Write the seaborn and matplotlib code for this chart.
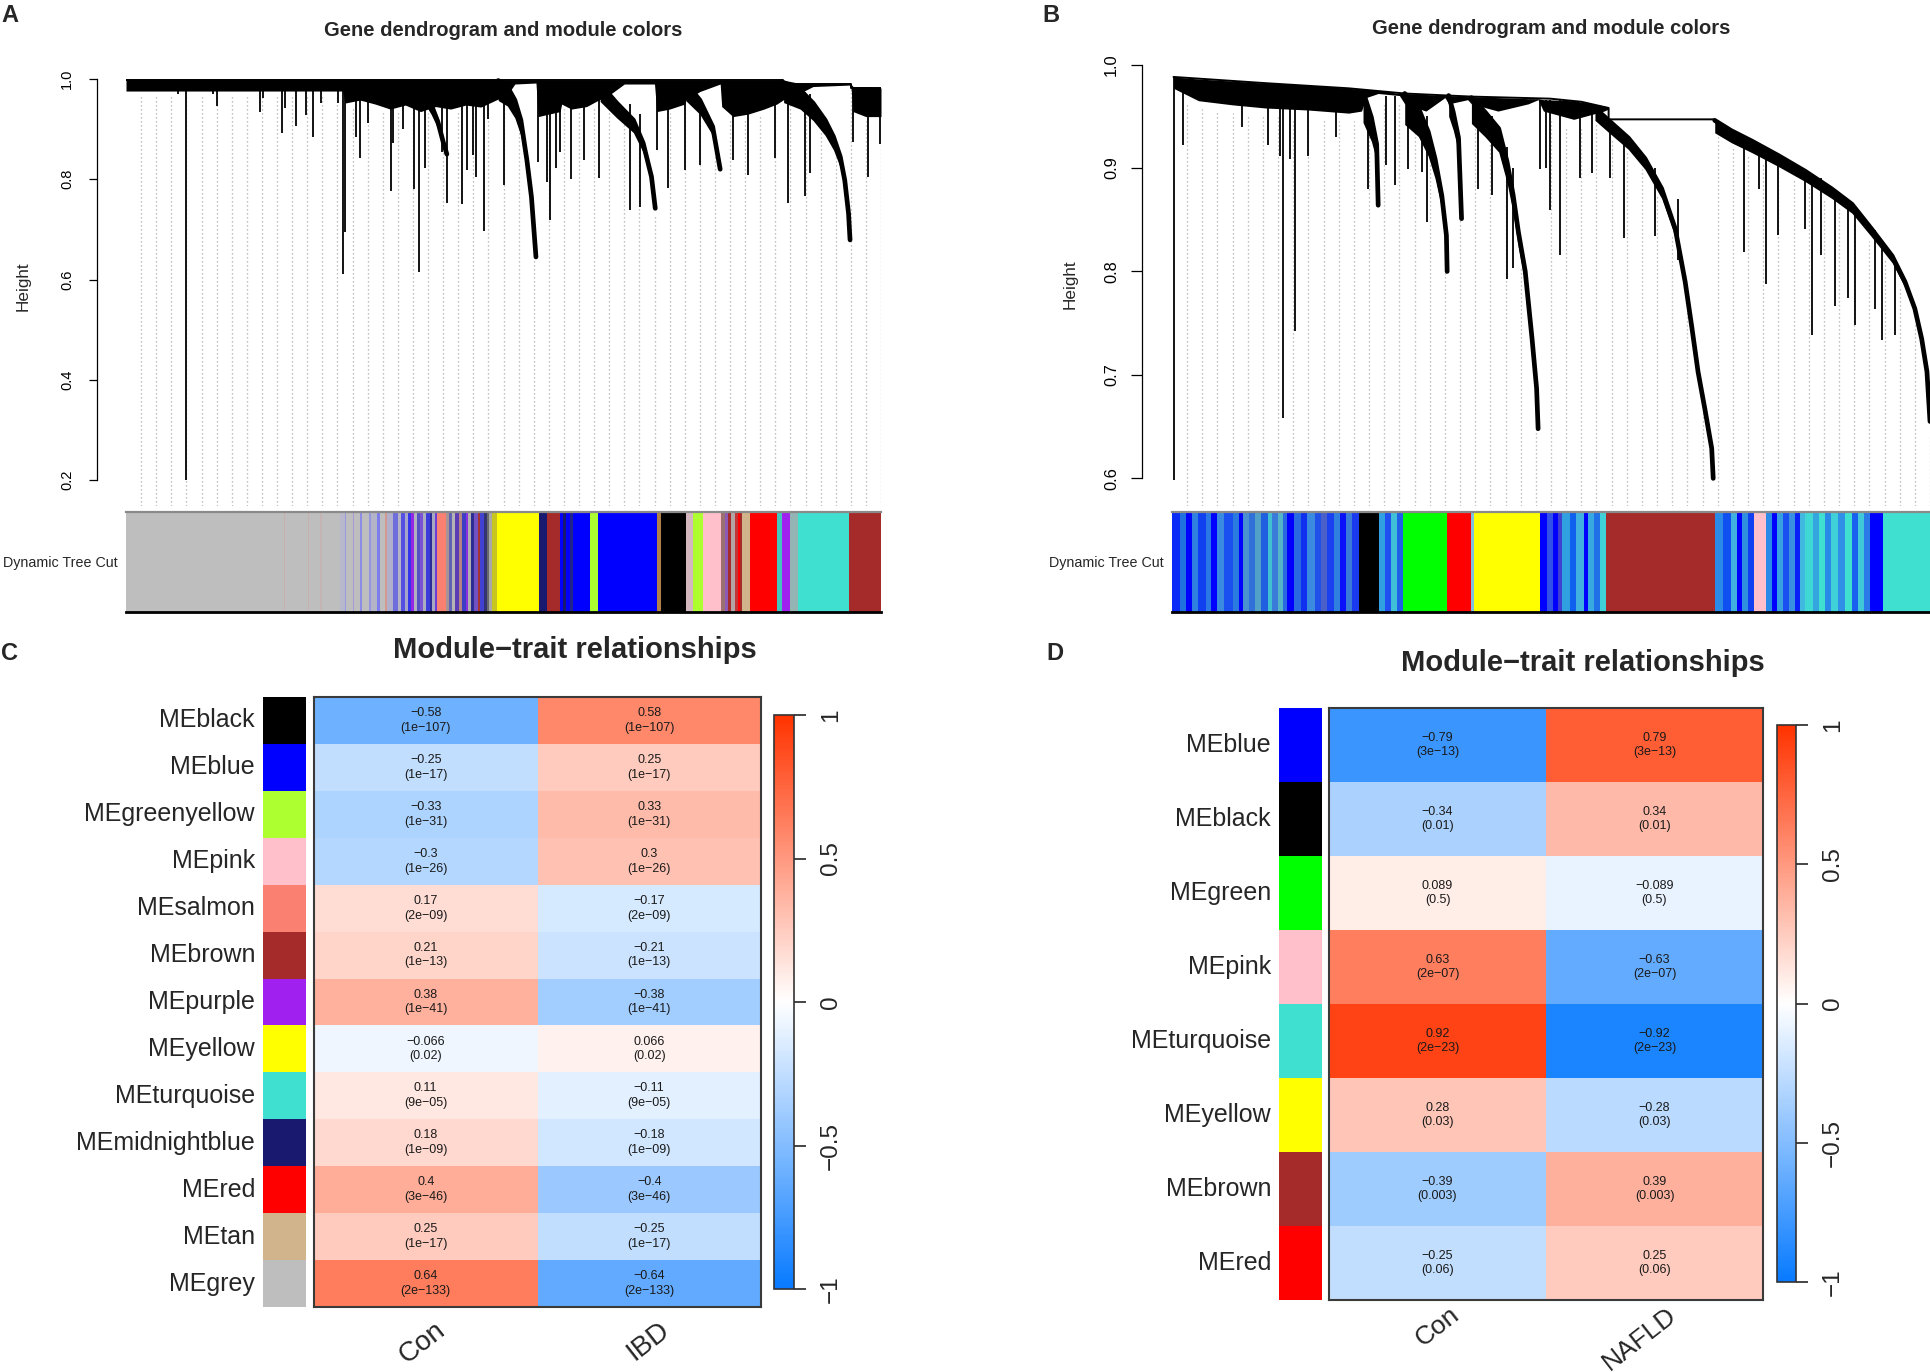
import numpy as np
import pandas as pd
import matplotlib
matplotlib.use("Agg")
import matplotlib.pyplot as plt
import matplotlib.transforms as mtrans
from matplotlib.colors import LinearSegmentedColormap, ListedColormap
import seaborn as sns

# ----------------------------------------------------------------- data
# R colour names used by WGCNA
RCOL = {"black": "#000000", "blue": "#0000FF", "greenyellow": "#ADFF2F", "pink": "#FFC0CB",
        "salmon": "#FA8072", "brown": "#A52A2A", "purple": "#A020F0", "yellow": "#FFFF00",
        "turquoise": "#40E0D0", "midnightblue": "#191970", "red": "#FF0000", "tan": "#D2B48C",
        "grey": "#BEBEBE", "green": "#00FF00"}

# Panel C: module-trait relationships (IBD)
C_modules = ["MEblack", "MEblue", "MEgreenyellow", "MEpink", "MEsalmon", "MEbrown", "MEpurple",
             "MEyellow", "MEturquoise", "MEmidnightblue", "MEred", "MEtan", "MEgrey"]
C_colors = ["black", "blue", "greenyellow", "pink", "salmon", "brown", "purple", "yellow",
            "turquoise", "midnightblue", "red", "tan", "grey"]
C_traits = ["Con", "IBD"]
C_cor_con = [-0.58, -0.25, -0.33, -0.3, 0.17, 0.21, 0.38, -0.066, 0.11, 0.18, 0.4, 0.25, 0.64]
C_cor_ibd = [0.58, 0.25, 0.33, 0.3, -0.17, -0.21, -0.38, 0.066, -0.11, -0.18, -0.4, -0.25, -0.64]
C_pval = ["1e-107", "1e-17", "1e-31", "1e-26", "2e-09", "1e-13", "1e-41", "0.02", "9e-05",
          "1e-09", "3e-46", "1e-17", "2e-133"]

# Panel D: module-trait relationships (NAFLD)
D_modules = ["MEblue", "MEblack", "MEgreen", "MEpink", "MEturquoise", "MEyellow", "MEbrown", "MEred"]
D_colors = ["blue", "black", "green", "pink", "turquoise", "yellow", "brown", "red"]
D_traits = ["Con", "NAFLD"]
D_cor_con = [-0.79, -0.34, 0.089, 0.63, 0.92, 0.28, -0.39, -0.25]
D_cor_nafld = [0.79, 0.34, -0.089, -0.63, -0.92, -0.28, 0.39, 0.25]
D_pval = ["3e-13", "0.01", "0.5", "2e-07", "2e-23", "0.03", "0.003", "0.06"]

# Panel A dendrogram (x = leaf-order fraction, h = height)
A_top_x = [0.0, 0.87, 0.87, 0.96, 0.96, 1.0]
A_top_h = [0.999, 0.999, 0.991, 0.991, 0.982, 0.982]
A_band_x = [0.000, 0.287, 0.290, 0.310, 0.330, 0.350, 0.370, 0.390, 0.410, 0.430, 0.450, 0.470, 0.490,
            0.505, 0.515, 0.543, 0.546, 0.560, 0.575, 0.577, 0.590, 0.610, 0.626, 0.640, 0.660, 0.700,
            0.703, 0.720, 0.740, 0.742, 0.760, 0.787, 0.789, 0.804, 0.824, 0.845, 0.862, 0.870, 0.890,
            0.910, 0.960, 0.963, 0.980, 1.000]
A_band_hi = [1.000, 1.000, 1.000, 1.000, 1.000, 1.000, 1.000, 1.000, 1.000, 1.000, 1.000, 1.000, 0.999,
             0.998, 0.998, 0.998, 0.998, 0.998, 0.998, 0.998, 0.998, 0.998, 0.998, 0.998, 0.998, 0.998,
             0.998, 0.998, 0.998, 0.998, 0.998, 0.998, 0.998, 0.998, 0.998, 0.998, 0.998, 0.998, 0.992,
             0.990, 0.990, 0.985, 0.985, 0.982]
A_band_lo = [0.976, 0.976, 0.952, 0.958, 0.950, 0.940, 0.948, 0.935, 0.945, 0.940, 0.948, 0.944, 0.958,
             0.968, 0.990, 0.992, 0.925, 0.930, 0.935, 0.950, 0.940, 0.945, 0.958, 0.968, 0.990, 0.990,
             0.935, 0.940, 0.950, 0.958, 0.975, 0.990, 0.945, 0.925, 0.930, 0.940, 0.950, 0.958, 0.970,
             0.985, 0.988, 0.935, 0.925, 0.925]
A_t1_x = [0.396, 0.404, 0.413, 0.420, 0.425]
A_t1_h = [0.975, 0.950, 0.915, 0.875, 0.850]
A_t2_x = [0.493, 0.505, 0.515, 0.523, 0.531, 0.537, 0.543]
A_t2_h = [0.997, 0.985, 0.958, 0.918, 0.838, 0.765, 0.645]
A_t3_x = [0.628, 0.650, 0.672, 0.685, 0.696, 0.701]
A_t3_h = [0.990, 0.952, 0.918, 0.872, 0.805, 0.742]
A_t4_x = [0.742, 0.760, 0.777, 0.787]
A_t4_h = [0.991, 0.958, 0.905, 0.820]
A_t5_x = [0.871, 0.893, 0.910, 0.926, 0.937, 0.946, 0.952, 0.957, 0.959]
A_t5_h = [0.993, 0.978, 0.952, 0.918, 0.885, 0.845, 0.798, 0.732, 0.679]
A_tail_depth = [0.025, 0.04, 0.035, 0.035, 0.04]
A_drop_x = [0.069, 0.0795, 0.115, 0.120, 0.177, 0.181, 0.206, 0.210, 0.225, 0.238, 0.248, 0.258, 0.281,
            0.287, 0.290, 0.305, 0.310, 0.321, 0.351, 0.354, 0.367, 0.382, 0.388, 0.396, 0.418, 0.425,
            0.445, 0.452, 0.460, 0.464, 0.474, 0.480, 0.500, 0.546, 0.557, 0.562, 0.570, 0.575, 0.589,
            0.606, 0.626, 0.667, 0.681, 0.703, 0.718, 0.740, 0.760, 0.804, 0.824, 0.860, 0.877, 0.899,
            0.906, 0.963, 0.983, 0.999]
A_drop_top = [0.976, 0.998, 0.976, 0.976, 0.976, 0.976, 0.976, 0.976, 0.976, 0.976, 0.976, 0.976, 0.976,
              0.998, 0.990, 0.970, 0.970, 0.970, 0.970, 0.970, 0.970, 0.970, 0.970, 0.970, 0.970, 0.970,
              0.970, 0.970, 0.970, 0.970, 0.970, 0.970, 0.990, 0.990, 0.990, 0.990, 0.990, 0.990, 0.990,
              0.990, 0.990, 0.950, 0.930, 0.990, 0.990, 0.990, 0.960, 0.990, 0.990, 0.990, 0.990, 0.975,
              0.970, 0.982, 0.982, 0.982]
A_drop_bot = [0.970, 0.200, 0.970, 0.946, 0.935, 0.962, 0.892, 0.942, 0.906, 0.928, 0.884, 0.952, 0.952,
              0.611, 0.695, 0.885, 0.842, 0.913, 0.777, 0.872, 0.900, 0.780, 0.615, 0.822, 0.855, 0.753,
              0.750, 0.818, 0.848, 0.805, 0.697, 0.920, 0.788, 0.835, 0.795, 0.719, 0.822, 0.855, 0.800,
              0.838, 0.802, 0.739, 0.745, 0.858, 0.782, 0.818, 0.828, 0.838, 0.808, 0.842, 0.752, 0.766,
              0.812, 0.875, 0.805, 0.870]

# Panel A module colour bar (segment start, colour)
A_bar_start = [0.000, 0.209, 0.211, 0.241, 0.243, 0.257, 0.259, 0.283, 0.290, 0.292, 0.300, 0.302, 0.310,
               0.313, 0.322, 0.325, 0.333, 0.337, 0.343, 0.346, 0.354, 0.360, 0.364, 0.370, 0.374, 0.378,
               0.381, 0.385, 0.390, 0.394, 0.398, 0.402, 0.405, 0.409, 0.412, 0.424, 0.428, 0.432, 0.436,
               0.441, 0.445, 0.450, 0.453, 0.457, 0.461, 0.466, 0.469, 0.474, 0.478, 0.481, 0.485, 0.491,
               0.547, 0.557, 0.575, 0.579, 0.583, 0.588, 0.592, 0.614, 0.625, 0.703, 0.708, 0.742, 0.751,
               0.764, 0.788, 0.793, 0.797, 0.801, 0.806, 0.810, 0.813, 0.816, 0.827, 0.862, 0.869, 0.880,
               0.890, 0.957]
A_bar_color = ["#BEBEBE", "#C9B0B0", "#BEBEBE", "#C9B0B0", "#BEBEBE", "#C4B4B4", "#BEBEBE", "#B8B8CC",
               "#9A9AE0", "#BEBEBE", "#A898D8", "#BEBEBE", "#8C8CE6", "#BEBEBE", "#9696E0", "#B4B4C8",
               "#7C7CEA", "#BEBEBE", "#D49A92", "#B0B0CC", "#6E6EDC", "#B4B4C4", "#5650E2", "#A4A4CC",
               "#3434EA", "#9428E4", "#B0B0C0", "#5252C4", "#7C52D4", "#ACACC0", "#3C3CDA", "#2C2C96",
               "#A8A8C0", "#6C40D8", "#FA8072", "#A89494", "#6262B4", "#B4B4B4", "#5C3CB4", "#B48484",
               "#3E3EC4", "#8C30E0", "#B0B0B0", "#2C2C92", "#7252C2", "#A43434", "#4242D2", "#343474",
               "#6A6A6A", "#A8A8A8", "#C8C420", "#FFFF00", "#191970", "#A52A2A", "#0000FF", "#191970",
               "#0000FF", "#23238C", "#0000FF", "#ADFF2F", "#0000FF", "#B08048", "#000000", "#D4B8C0",
               "#ADFF2F", "#FFC0CB", "#9C7070", "#8A5AB4", "#A52A2A", "#B4A4A4", "#C43434", "#FF0000",
               "#A52A2A", "#D2B48C", "#FF0000", "#44C4BC", "#A020F0", "#94B4B4", "#40E0D0", "#A52A2A"]

# Panel B dendrogram
B_top_x = [0.002, 0.123, 0.233, 0.307, 0.365, 0.395, 0.499, 0.540, 0.576, 0.576, 0.716]
B_top_h = [0.988, 0.982, 0.977, 0.972, 0.970, 0.969, 0.967, 0.964, 0.958, 0.947, 0.947]
B_band_x = [0.002, 0.035, 0.080, 0.123, 0.180, 0.233, 0.250, 0.256, 0.272, 0.300, 0.307, 0.335, 0.360,
            0.365, 0.390, 0.395, 0.430, 0.470, 0.483, 0.490, 0.530, 0.570, 0.576]
B_band_hi = [0.988, 0.986, 0.984, 0.982, 0.980, 0.977, 0.976, 0.976, 0.975, 0.972, 0.972, 0.971, 0.970,
             0.970, 0.969, 0.969, 0.968, 0.967, 0.967, 0.966, 0.965, 0.960, 0.958]
B_band_lo = [0.977, 0.965, 0.961, 0.958, 0.956, 0.953, 0.955, 0.968, 0.972, 0.970, 0.962, 0.955, 0.968,
             0.962, 0.966, 0.962, 0.955, 0.962, 0.966, 0.955, 0.947, 0.955, 0.957]
B_t1_x = [0.252, 0.263, 0.270, 0.272]
B_t1_h = [0.974, 0.949, 0.923, 0.864]
B_t2_x = [0.307, 0.325, 0.338, 0.347, 0.356, 0.362, 0.363]
B_t2_h = [0.972, 0.958, 0.935, 0.909, 0.873, 0.835, 0.800]
B_t3_x = [0.365, 0.371, 0.378, 0.382]
B_t3_h = [0.970, 0.954, 0.929, 0.851]
B_t4_x = [0.395, 0.413, 0.431, 0.442, 0.450, 0.457, 0.466, 0.475, 0.481, 0.483]
B_t4_h = [0.968, 0.954, 0.938, 0.906, 0.874, 0.838, 0.800, 0.735, 0.687, 0.648]
B_t5_x = [0.558, 0.576, 0.602, 0.624, 0.646, 0.664, 0.677, 0.686, 0.694, 0.703, 0.712, 0.714]
B_t5_h = [0.958, 0.946, 0.929, 0.909, 0.880, 0.841, 0.790, 0.745, 0.703, 0.667, 0.629, 0.600]
B_t6_x = [0.716, 0.738, 0.765, 0.800, 0.835, 0.870, 0.897, 0.923, 0.950, 0.967, 0.980, 0.989, 0.996, 1.000]
B_t6_h = [0.946, 0.936, 0.926, 0.912, 0.897, 0.880, 0.865, 0.841, 0.815, 0.790, 0.764, 0.735, 0.703, 0.655]
B_tail_depth = [0.03, 0.03, 0.02, 0.025, 0.012, 0.012]
B_drop_x = [0.002, 0.015, 0.092, 0.127, 0.143, 0.146, 0.156, 0.162, 0.179, 0.217, 0.258, 0.282, 0.294,
            0.312, 0.330, 0.337, 0.404, 0.422, 0.442, 0.450, 0.486, 0.494, 0.499, 0.512, 0.538, 0.554,
            0.578, 0.596, 0.637, 0.668, 0.755, 0.774, 0.784, 0.799, 0.835, 0.844, 0.856, 0.875, 0.892,
            0.901, 0.927, 0.937, 0.954]
B_drop_top = [0.988, 0.975, 0.965, 0.960, 0.960, 0.980, 0.960, 0.980, 0.960, 0.960, 0.960, 0.970, 0.970,
              0.965, 0.950, 0.950, 0.960, 0.950, 0.920, 0.900, 0.966, 0.966, 0.966, 0.966, 0.960, 0.960,
              0.945, 0.935, 0.900, 0.870, 0.925, 0.920, 0.920, 0.910, 0.897, 0.890, 0.890, 0.880, 0.865,
              0.860, 0.840, 0.830, 0.810]
B_drop_bot = [0.598, 0.922, 0.940, 0.922, 0.912, 0.658, 0.909, 0.742, 0.912, 0.930, 0.880, 0.903, 0.884,
              0.899, 0.896, 0.848, 0.880, 0.874, 0.793, 0.803, 0.899, 0.900, 0.859, 0.816, 0.890, 0.895,
              0.890, 0.832, 0.834, 0.811, 0.819, 0.880, 0.788, 0.835, 0.841, 0.739, 0.816, 0.767, 0.774,
              0.748, 0.764, 0.734, 0.739]

# Panel B module colour bar
B_bar_start = [0.000, 0.010, 0.018, 0.026, 0.034, 0.045, 0.052, 0.060, 0.068, 0.080, 0.088, 0.094, 0.102,
               0.110, 0.118, 0.126, 0.132, 0.140, 0.146, 0.152, 0.161, 0.170, 0.178, 0.188, 0.196, 0.204,
               0.214, 0.222, 0.230, 0.238, 0.247, 0.273, 0.281, 0.289, 0.297, 0.305, 0.363, 0.395, 0.398,
               0.485, 0.495, 0.503, 0.509, 0.515, 0.525, 0.533, 0.543, 0.549, 0.557, 0.565, 0.573, 0.717,
               0.727, 0.737, 0.745, 0.752, 0.760, 0.768, 0.784, 0.792, 0.798, 0.806, 0.814, 0.822, 0.828,
               0.835, 0.845, 0.853, 0.862, 0.870, 0.878, 0.888, 0.897, 0.905, 0.913, 0.921, 0.938]
B_bar_color = ["#0A2AF5", "#2070E0", "#0000FF", "#3080E0", "#1040F0", "#2A78E6", "#0000FF", "#3A8AE0",
               "#1A50F0", "#2A7AE0", "#0000FF", "#4A90D0", "#3070D8", "#50A0C8", "#2060E0", "#40C0D0",
               "#3A7AD8", "#55B5C8", "#2A6AE0", "#0000FF", "#2A6AE0", "#1030F0", "#3A8AE0", "#2050E8",
               "#4A60C8", "#1A40F0", "#3080E0", "#0A10FA", "#3A7AD8", "#1A3AF0", "#000000", "#30A0E0",
               "#2050F0", "#40C0D8", "#2060E8", "#00FF00", "#FF0000", "#80C0E0", "#FFFF00", "#0000FF",
               "#3050E8", "#0000FF", "#4040D0", "#30A0E0", "#1060F0", "#40B0E0", "#0000FF", "#38A8E0",
               "#2070E8", "#40D0D8", "#A52A2A", "#2A8AE8", "#1050F0", "#40B0E0", "#0000FF", "#3090E0",
               "#1040F0", "#FFC0CB", "#2A8AE8", "#0000FF", "#38A0E0", "#1A50F0", "#3A90E0", "#0A20F8",
               "#40B8E0", "#40D8D4", "#35A5E0", "#40E0D0", "#2A8AE8", "#40D0D8", "#3090E8", "#40E0D0",
               "#1A60F0", "#40C8D8", "#2A7AE8", "#0000FF", "#40E0D0"]

A_ticks = [0.2, 0.4, 0.6, 0.8, 1.0]
B_ticks = [0.6, 0.7, 0.8, 0.9, 1.0]
CB_ticks = [-1, -0.5, 0, 0.5, 1]

# ----------------------------------------------------------------- setup
W, H = 1930, 1372
DPI = 100
sns.set_style("white")
plt.rcParams["font.family"] = ["Liberation Sans", "DejaVu Sans"]
MINUS = "\u2212"

fig = plt.figure(figsize=(W / DPI, H / DPI), dpi=DPI)
fig.patch.set_facecolor("white")


def pxrect(l, t, r, b):
    return [l / W, 1 - b / H, (r - l) / W, (b - t) / H]


def ftext(x, y, s, **kw):
    fig.text(x / W, 1 - y / H, s, **kw)


def PT(px):
    return px * 72.0 / DPI


BWR = LinearSegmentedColormap.from_list(
    "bwr_wgcna", [(0.0, (0.03, 0.48, 1.0)), (0.5, (1.0, 1.0, 1.0)), (1.0, (1.0, 0.2, 0.0))], N=256)


def draw_dendro(ax, ylim, spine_lo, ticks, tick_fs, tick_len_px, tick_pad_px, outward_px,
                top_x, top_h, band_x, band_hi, band_lo, tails, depths, drop_x, drop_top, drop_bot):
    ax.set_xlim(0, 1)
    ax.set_ylim(*ylim)
    ax.set_facecolor("white")
    # guide lines (dotted) hanging from the leaves
    gx = np.linspace(0.02, 1.0, 50)
    gtop = np.interp(gx, band_x, band_lo, left=np.nan, right=np.nan)
    for (tx, th), d in zip(tails, depths):
        inside = (gx >= tx[0]) & (gx <= tx[-1])
        tcur = np.interp(gx, tx, th) - 0.5 * d
        gtop = np.where(inside, np.fmin(gtop, tcur), gtop)
    gtop = np.nan_to_num(gtop, nan=ylim[1]) - 0.008
    ax.vlines(gx, ylim[0], gtop, colors="#ababab", linestyles=(0, (1, 2.2)), lw=0.9, zorder=1)
    # dense comb
    ax.fill_between(band_x, band_lo, band_hi, color="black", lw=0, zorder=2)
    ax.plot(top_x, top_h, color="black", lw=1.4, zorder=3)
    # tails
    for (tx, th), d in zip(tails, depths):
        th = np.asarray(th)
        dd = d * (th - th.min()) / (th.max() - th.min())
        ax.fill_between(tx, th - dd, th, color="black", lw=0, zorder=3)
        ax.plot(tx, th, color="black", lw=3.4, zorder=4, solid_capstyle="round")
    # single branches
    ax.vlines(drop_x, drop_bot, drop_top, colors="black", lw=1.3, zorder=4)
    # axis
    for s in ["top", "right", "bottom"]:
        ax.spines[s].set_visible(False)
    ax.spines["left"].set_visible(True)
    ax.spines["left"].set_color("black")
    ax.spines["left"].set_linewidth(0.9)
    ax.spines["left"].set_position(("outward", PT(outward_px)))
    ax.spines["left"].set_bounds(spine_lo, 1.0)
    ax.set_xticks([])
    ax.set_yticks(ticks)
    ax.set_yticklabels([f"{t:.1f}" for t in ticks], fontsize=tick_fs)
    ax.tick_params(axis="y", left=True, length=PT(tick_len_px), width=0.9, pad=PT(tick_pad_px),
                   direction="out", colors="black")
    for lab in ax.get_yticklabels():
        lab.set_rotation(90)
        lab.set_va("center")
        lab.set_ha("right")
    ax.grid(False)


def draw_colorbar_row(ax, starts, colors):
    starts = np.asarray(starts)
    widths = np.diff(np.append(starts, 1.0))
    ax.bar(starts, np.ones_like(starts), width=widths, align="edge", color=colors,
           linewidth=0, antialiased=False)
    ax.set_xlim(0, 1)
    ax.set_ylim(0, 1)
    ax.set_xticks([])
    ax.set_yticks([])
    ax.spines["left"].set_visible(False)
    ax.spines["right"].set_visible(False)
    ax.spines["top"].set_visible(True)
    ax.spines["top"].set_color("#8a8a8a")
    ax.spines["top"].set_linewidth(1.6)
    ax.spines["bottom"].set_visible(True)
    ax.spines["bottom"].set_color("black")
    ax.spines["bottom"].set_linewidth(2.0)


def num(v):
    return str(v).replace("-", MINUS)


def draw_module_heatmap(side_rect, heat_rect, cbar_rect, modules, mcolors, traits, cols, pvals,
                        lab_dx, lab_dy, lab_fs):
    n = len(modules)
    side = fig.add_axes(pxrect(*side_rect))
    heat = fig.add_axes(pxrect(*heat_rect))
    cax = fig.add_axes(pxrect(*cbar_rect))
    side_df = pd.DataFrame({"module": np.arange(n)}, index=modules)
    sns.heatmap(side_df, ax=side, cmap=ListedColormap([RCOL[c] for c in mcolors]), vmin=-0.5,
                vmax=n - 0.5, cbar=False, xticklabels=False, yticklabels=modules)
    side.set_ylabel("")
    side.tick_params(axis="y", left=False, length=0, pad=PT(8), labelsize=18)
    for lab in side.get_yticklabels():
        lab.set_rotation(0)
        lab.set_va("center")
        lab.set_ha("right")

    df = pd.DataFrame(dict(zip(traits, cols)), index=modules)
    annot = np.array([[f"{num(v)}\n({num(p)})" for v in row] for row, p in zip(df.values, pvals)])
    sns.heatmap(df, ax=heat, cmap=BWR, vmin=-1, vmax=1, annot=annot, fmt="",
                annot_kws=dict(fontsize=9, color="#1a1a1a", linespacing=1.3),
                cbar=True, cbar_ax=cax, xticklabels=False, yticklabels=False)
    heat.set_ylabel("")
    for s in heat.spines.values():
        s.set_visible(True)
        s.set_linewidth(1.5)
        s.set_color("#3a3a3a")
    # rotated trait labels below the heatmap
    off = mtrans.ScaledTranslation(lab_dx / DPI, -lab_dy / DPI, fig.dpi_scale_trans)
    tr = mtrans.blended_transform_factory(heat.transData, heat.transAxes) + off
    for j, t in enumerate(traits):
        heat.text(j + 0.5, 0, t, transform=tr, rotation=38, ha="right", va="center",
                  rotation_mode="anchor", fontsize=lab_fs)
    cb = heat.collections[0].colorbar
    cb.set_ticks(CB_ticks)
    cb.set_ticklabels([num(t) for t in CB_ticks])
    cb.outline.set_linewidth(1.2)
    cb.outline.set_edgecolor("#333333")
    cb.ax.tick_params(axis="y", right=True, length=PT(12), width=1.2, pad=PT(14), labelsize=17.5,
                      direction="out")
    for lab in cb.ax.get_yticklabels():
        lab.set_rotation(90)
        lab.set_va("center")
        lab.set_ha("left")


# ----------------------------------------------------------------- panel A
axA = fig.add_axes(pxrect(126, 72, 881, 506))
A_tails = [(A_t1_x, A_t1_h), (A_t2_x, A_t2_h), (A_t3_x, A_t3_h), (A_t4_x, A_t4_h), (A_t5_x, A_t5_h)]
draw_dendro(axA, (0.1481, 1.014), 0.2, A_ticks, 10.5, 8, 15, 29,
            A_top_x, A_top_h, A_band_x, A_band_hi, A_band_lo, A_tails, A_tail_depth,
            A_drop_x, A_drop_top, A_drop_bot)
barA = fig.add_axes(pxrect(126, 512, 881, 612))
draw_colorbar_row(barA, A_bar_start, A_bar_color)

# ----------------------------------------------------------------- panel B
axB = fig.add_axes(pxrect(1172, 58, 1930, 506))
B_tails = [(B_t1_x, B_t1_h), (B_t2_x, B_t2_h), (B_t3_x, B_t3_h), (B_t4_x, B_t4_h),
           (B_t5_x, B_t5_h), (B_t6_x, B_t6_h)]
draw_dendro(axB, (0.5733, 1.0063), 0.6, B_ticks, 11.8, 11, 12, 30,
            B_top_x, B_top_h, B_band_x, B_band_hi, B_band_lo, B_tails, B_tail_depth,
            B_drop_x, B_drop_top, B_drop_bot)
barB = fig.add_axes(pxrect(1172, 512, 1930, 612))
draw_colorbar_row(barB, B_bar_start, B_bar_color)

# ----------------------------------------------------------------- panels C, D
draw_module_heatmap((263, 697, 306, 1307), (314, 697, 761, 1307), (774, 715, 794, 1289),
                    C_modules, C_colors, C_traits, [C_cor_con, C_cor_ibd], C_pval, 17, 20, 20)
draw_module_heatmap((1279, 708, 1322, 1300), (1329, 708, 1763, 1300), (1777, 725, 1796, 1282),
                    D_modules, D_colors, D_traits, [D_cor_con, D_cor_nafld], D_pval, 19, 12, 19)

# ----------------------------------------------------------------- texts
bold = dict(fontweight="bold", ha="center", va="center")
ftext(10, 16, "A", fontsize=17, **bold)
ftext(1051, 16, "B", fontsize=17, **bold)
ftext(10, 654, "C", fontsize=17, **bold)
ftext(1055, 654, "D", fontsize=17, **bold)
ftext(503, 31, "Gene dendrogram and module colors", fontsize=14.5, **bold)
ftext(1551, 29, "Gene dendrogram and module colors", fontsize=14.5, **bold)
ftext(575, 650, f"Module{MINUS}trait relationships", fontsize=21, **bold)
ftext(1583, 663, f"Module{MINUS}trait relationships", fontsize=21, **bold)
ftext(23, 286, "Height", fontsize=12.3, rotation=90, ha="center", va="center")
ftext(1070, 284, "Height", fontsize=12.3, rotation=90, ha="center", va="center")
ftext(118, 563, "Dynamic Tree Cut", fontsize=10.3, ha="right", va="center")
ftext(1164, 563, "Dynamic Tree Cut", fontsize=10.3, ha="right", va="center")

fig.savefig("out.png", dpi=DPI, facecolor="white")
